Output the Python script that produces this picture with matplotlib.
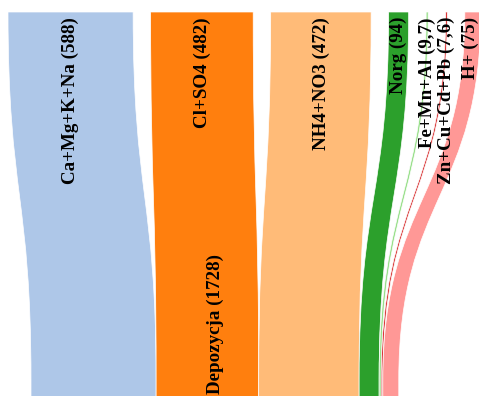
import matplotlib
matplotlib.use("Agg")
import matplotlib.pyplot as plt
from matplotlib.path import Path
from matplotlib.patches import PathPatch

# ---- data ----
labels = ["Ca+Mg+K+Na (588)", "Cl+SO4 (482)", "NH4+NO3 (472)", "Norg (94)",
          "Fe+Mn+Al (9,7)", "Zn+Cu+Cd+Pb (7,6)", "H+ (75)"]
values = [588, 482, 472, 94, 9.7, 7.6, 75]
colors = ["#aec7e8", "#ff7f0e", "#ffbb78", "#2ca02c", "#98df8a", "#d62728", "#ff9896"]
target_label = "Depozycja (1728)"

# ---- layout ----
W, H = 479, 396
scale = 0.2128          # px per unit
gap = 17.5
top_x0 = 8.0
bot_x0 = 31.0
y_top = 12.0
y_curve_end = 380.0
y_bottom = 400.0

fig = plt.figure(figsize=(W / 100, H / 100), dpi=100)
ax = fig.add_axes([0, 0, 1, 1])
ax.set_xlim(0, W)
ax.set_ylim(H, 0)
ax.axis("off")

font = dict(family=["Liberation Serif", "DejaVu Serif"], weight="bold", size=13.7)

tx = top_x0
bx = bot_x0
ym = (y_top + y_curve_end) / 2
for lab, v, c in zip(labels, values, colors):
    w = v * scale
    tl, tr = tx, tx + w
    bl, br = bx, bx + w
    verts = [
        (tl, y_top),
        (tl, ym), (bl, ym), (bl, y_curve_end),
        (bl, y_bottom),
        (br, y_bottom),
        (br, y_curve_end),
        (br, ym), (tr, ym), (tr, y_top),
        (tl, y_top),
    ]
    codes = [Path.MOVETO,
             Path.CURVE4, Path.CURVE4, Path.CURVE4,
             Path.LINETO, Path.LINETO, Path.LINETO,
             Path.CURVE4, Path.CURVE4, Path.CURVE4,
             Path.CLOSEPOLY]
    ax.add_patch(PathPatch(Path(verts, codes), facecolor=c, edgecolor="white",
                           lw=0.5))
    lx = min((tl + tr) / 2, W - 8.5)
    ax.text(lx, 17, lab, rotation=90, ha="center", va="top",
            color="black", **font)
    tx = tr + gap
    bx = br

ax.text((bot_x0 + bx) / 2, 394, target_label, rotation=90, ha="center",
        va="bottom", color="black", **font)

fig.savefig("out.png", dpi=100)
